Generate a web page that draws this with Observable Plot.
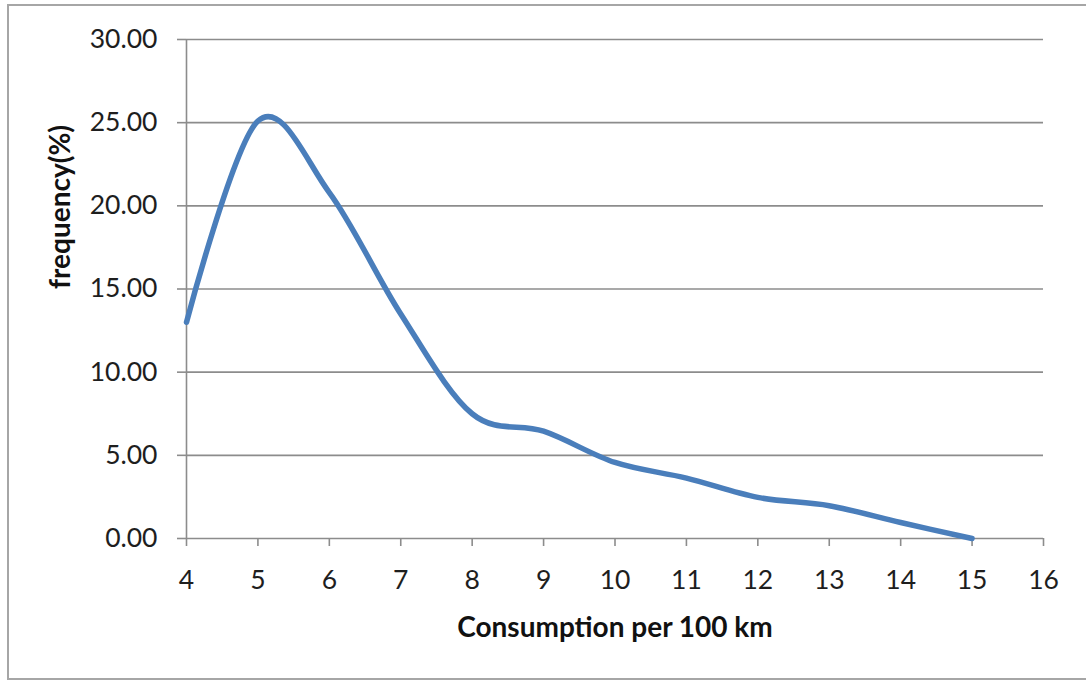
<!DOCTYPE html>
<html>
<head>
<meta charset="utf-8">
<script src="https://cdn.jsdelivr.net/npm/d3@7"></script>
<script src="https://cdn.jsdelivr.net/npm/@observablehq/plot@0.6"></script>
<style>
  html, body { margin: 0; padding: 0; background: #fff; }
  #wrap { position: relative; width: 1086px; height: 684px; overflow: hidden; }
  #frame { position: absolute; left: 7px; top: 4px; width: 1090px; height: 676px; border: 2px solid #a6a6a6; box-sizing: border-box; }
  #chart { position: absolute; left: 0; top: 0; }
</style>
</head>
<body>
<div id="wrap"><div id="frame"></div><div id="chart"></div></div>
<script>
const consumption = [4, 5, 6, 7, 8, 9, 10, 11, 12, 13, 14, 15];
const frequency = [13.0, 25.1, 20.8, 13.5, 7.5, 6.45, 4.57, 3.63, 2.47, 1.97, 0.96, 0.0];
const xTicks = [4, 5, 6, 7, 8, 9, 10, 11, 12, 13, 14, 15, 16];
const yTicks = [0, 5, 10, 15, 20, 25, 30];
const xLabel = "Consumption per 100 km";
const yLabel = "frequency(%)";

const data = consumption.map((c, i) => ({x: c, y: frequency[i]}));
const font = "Lato, 'Open Sans', sans-serif";

const plot = Plot.plot({
  width: 1086,
  height: 684,
  marginLeft: 186,
  marginRight: 43,
  marginTop: 39,
  marginBottom: 146,
  style: {fontFamily: font, fontSize: "26.5px", color: "#1e1e1e", background: "transparent"},
  x: {domain: [4, 16]},
  y: {domain: [0, 30]},
  marks: [
    Plot.ruleY(yTicks, {y: d => d, x1: 4, x2: 16, stroke: "#8c8c8c", strokeWidth: 1.6}),
    Plot.ruleX([4], {y1: 0, y2: 30, stroke: "#8c8c8c", strokeWidth: 1.6}),
    Plot.axisY({ticks: yTicks, tickFormat: d => d.toFixed(2), tickSize: 9, tickPadding: 20,
      stroke: "#8c8c8c", strokeWidth: 1.6, label: null, fill: "#1e1e1e"}),
    Plot.axisX({ticks: xTicks, tickFormat: d => String(d), tickSize: 8, tickPadding: 24,
      stroke: "#8c8c8c", strokeWidth: 1.6, label: null, fill: "#1e1e1e"}),
    Plot.line(data, {x: "x", y: "y", curve: "cardinal", tension: 0, stroke: "#4a7ebb", strokeWidth: 5.5, strokeLinecap: "round"}),
    Plot.text([xLabel], {frameAnchor: "bottom", dy: 90, text: d => d, fontSize: 28, fontWeight: "bold", fill: "#111", lineAnchor: "middle"}),
    Plot.text([yLabel], {frameAnchor: "left", dx: -125, text: d => d, fontSize: 28, fontWeight: "bold", fill: "#111", rotate: -90, lineAnchor: "middle"})
  ]
});
document.getElementById("chart").appendChild(plot);
</script>
</body>
</html>
